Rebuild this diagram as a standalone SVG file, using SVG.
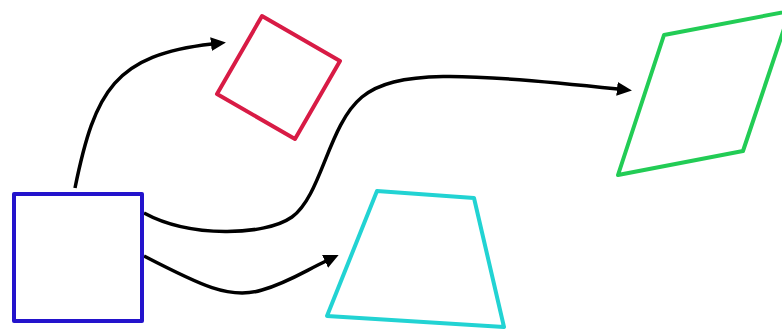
<svg xmlns="http://www.w3.org/2000/svg" width="782" height="331" viewBox="0 0 782 331">
<style>
.shape{fill:none;stroke-width:4;stroke-linejoin:round}
.conn{fill:none;stroke:#000;stroke-width:3.5}
</style>
<defs>
<marker id="ah" markerUnits="userSpaceOnUse" markerWidth="16" markerHeight="16" refX="1" refY="7" orient="auto">
<path d="M0,0 L15,7 L0,14 z" fill="#000"/>
</marker>
</defs>
<rect width="782" height="331" fill="#fff"/>
<g id="connectors">
<path class="conn" d="M75,188 C95,90 115,55 212,44" marker-end="url(#ah)"/>
<path class="conn" d="M144,213 C190,238 265,236 292,217 C322,195 328,125 362,97 C395,70 460,72 618,89" marker-end="url(#ah)"/>
<path class="conn" d="M144,256 C200,285 230,300 262,290 C287,283 305,271 326,261" marker-end="url(#ah)"/>
</g>
<g id="blue-square"><rect class="shape" x="14" y="194" width="128" height="127" stroke="#2313cc"/></g>
<g id="red-square"><polygon class="shape" points="262,16 340,61 295,139 217,94" stroke="#d81b45"/></g>
<g id="green-parallelogram"><polygon class="shape" points="664,35 790,11 743,151 618,175" stroke="#22cc55"/></g>
<g id="cyan-trapezoid"><polygon class="shape" points="377,191 474,198 504,327 327,316" stroke="#22d3d3"/></g>
</svg>
